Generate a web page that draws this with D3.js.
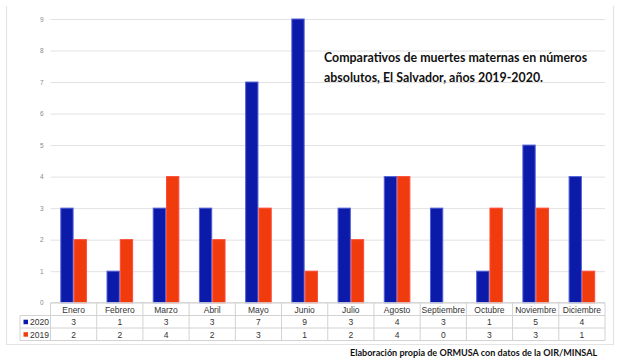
<!DOCTYPE html>
<html><head><meta charset="utf-8">
<script src="https://cdn.jsdelivr.net/npm/d3@7"></script>
<style>body{margin:0;background:#fff}svg{display:block}</style>
</head><body>
<script>
const months = ["Enero","Febrero","Marzo","Abril","Mayo","Junio","Julio","Agosto","Septiembre","Octubre","Noviembre","Diciembre"];
const seriesNames = ["2020","2019"];
const values2020 = [3,1,3,3,7,9,3,4,3,1,5,4];
const values2019 = [2,2,4,2,3,1,2,4,0,3,3,1];
const yTicks = [0,1,2,3,4,5,6,7,8,9];
const titleLines = ["Comparativos de muertes maternas en números","absolutos, El Salvador, años 2019-2020."];
const footer = "Elaboración propia de ORMUSA con datos de la OIR/MINSAL";

const W = 627, H = 360;
const svg = d3.select("body").append("svg").attr("width", W).attr("height", H);
const fills = ["#0b1aa8", "#f03c0c"];
const strokes = ["#5260d6", "#ff4a3a"];
const seriesVals = [values2020, values2019];

const pLeft = 50.5, pRight = 605, pTop = 19, pBottom = 302.7;
const x = d3.scaleBand().domain(months).range([pLeft, pRight]).paddingInner(0).paddingOuter(0);
const y = d3.scaleLinear().domain([0, 9]).range([pBottom, pTop]);
const xs = d3.scaleBand().domain(seriesNames).range([0, 26.6]);

// outer frame
svg.append("path").attr("d", `M6.5,6 V344.5 H613.5 V6`).attr("fill","none").attr("stroke","#e4e4e4").attr("stroke-width",1.2);

// gridlines + tick labels
const yAxis = d3.axisLeft(y).tickValues(yTicks).tickSize(-(pRight - pLeft)).tickPadding(7);
const ga = svg.append("g").attr("transform", `translate(${pLeft},0)`).call(yAxis);
ga.select(".domain").remove();
ga.selectAll(".tick line").attr("stroke", "#e2e2e2");
ga.selectAll(".tick text").attr("fill", "#888").attr("font-size", 6.5).attr("font-family", "Liberation Sans, Arial, sans-serif");

// title
const tg = svg.append("g").attr("font-family", "Lato, sans-serif").attr("font-weight", "bold").attr("font-size", 12.4).attr("fill", "#111");
titleLines.forEach((t, i) => {
  tg.append("text").attr("x", 324).attr("y", 62 + i * 20).text(t);
});

// bars
seriesNames.forEach((s, si) => {
  svg.append("g").selectAll("rect").data(months).join("rect")
    .attr("x", m => x(m) + (x.bandwidth() - 26.6) / 2 + xs(s) + 0.5)
    .attr("y", (m, i) => y(seriesVals[si][i]))
    .attr("width", xs.bandwidth() - 1)
    .attr("height", (m, i) => pBottom - y(seriesVals[si][i]))
    .attr("fill", fills[si])
    .attr("stroke", strokes[si])
    .attr("stroke-width", 1)
    .attr("display", (m, i) => seriesVals[si][i] === 0 ? "none" : null);
});

// data table
const rowY = [302.7, 315.5, 328, 340.5];
const tableLeft = 20;
const lineCol = "#d2d2d2";
const tbl = svg.append("g").attr("font-family", "Liberation Sans, Arial, sans-serif").attr("font-size", 8.5).attr("fill", "#333");
tbl.append("line").attr("x1", pLeft).attr("x2", pRight).attr("y1", rowY[0]).attr("y2", rowY[0]).attr("stroke", lineCol);
[1,2,3].forEach(r => tbl.append("line").attr("x1", tableLeft).attr("x2", pRight).attr("y1", rowY[r]).attr("y2", rowY[r]).attr("stroke", lineCol));
tbl.append("line").attr("x1", tableLeft).attr("x2", tableLeft).attr("y1", rowY[1]).attr("y2", rowY[3]).attr("stroke", lineCol);
months.forEach(m => tbl.append("line").attr("x1", x(m)).attr("x2", x(m)).attr("y1", rowY[0]).attr("y2", rowY[3]).attr("stroke", lineCol));
tbl.append("line").attr("x1", pRight).attr("x2", pRight).attr("y1", rowY[0]).attr("y2", rowY[3]).attr("stroke", lineCol);
tbl.selectAll(".hdr").data(months).join("text").attr("class","hdr")
  .attr("x", m => x(m) + x.bandwidth() / 2).attr("y", rowY[0] + 9.8).attr("text-anchor", "middle").text(m => m);
seriesNames.forEach((s, si) => {
  const ry = rowY[si + 1];
  tbl.append("rect").attr("x", 23.5).attr("y", ry + 4.2).attr("width", 4.5).attr("height", 4.5).attr("fill", fills[si]);
  tbl.append("text").attr("x", 30).attr("y", ry + 9.5).text(s);
  tbl.selectAll(".v" + si).data(months).join("text").attr("class", "v" + si)
    .attr("x", m => x(m) + x.bandwidth() / 2).attr("y", ry + 9.5).attr("text-anchor", "middle")
    .text((m, i) => seriesVals[si][i]);
});

// footer
svg.append("text").attr("x", 350).attr("y", 356).attr("font-family", "Lato, sans-serif").attr("font-weight", "bold").attr("font-size", 9.05).attr("fill", "#111").text(footer);
</script>
</body></html>
